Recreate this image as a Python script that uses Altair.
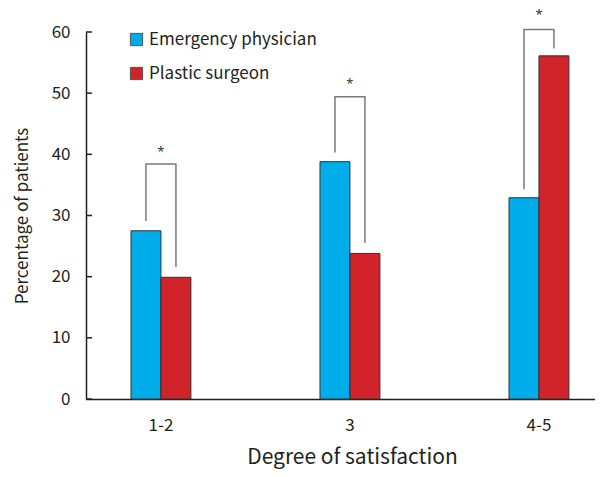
import altair as alt
import pandas as pd

categories = ["1-2", "3", "4-5"]
groups = ["Emergency physician", "Plastic surgeon"]
emergency = [27.5, 38.8, 32.9]
plastic = [19.9, 23.8, 56.1]

bracket_top = [38.4, 49.4, 60.4]
bracket_left_bottom = [29.1, 40.3, 34.3]
bracket_right_bottom = [21.6, 25.5, 57.3]
star_y = [40.9, 52.0, 63.3]
y_ticks = [0, 10, 20, 30, 40, 50, 60]

FONT = "Noto Sans CJK KR"
TXT = "#231F20"

bars_df = pd.DataFrame(
    [{"cat": c, "group": groups[0], "value": v} for c, v in zip(categories, emergency)]
    + [{"cat": c, "group": groups[1], "value": v} for c, v in zip(categories, plastic)]
)

br_rows = []
for c, t, lb, rb in zip(categories, bracket_top, bracket_left_bottom, bracket_right_bottom):
    br_rows += [
        {"cat": c, "group": groups[0], "value": lb, "ord": 0},
        {"cat": c, "group": groups[0], "value": t, "ord": 1},
        {"cat": c, "group": groups[1], "value": t, "ord": 2},
        {"cat": c, "group": groups[1], "value": rb, "ord": 3},
    ]
br_df = pd.DataFrame(br_rows)
star_df = pd.DataFrame({"cat": categories, "value": star_y, "label": ["*"] * 3})
tick_df = pd.DataFrame({"v": y_ticks})

x_scale = alt.Scale(domain=categories, paddingInner=0.683, paddingOuter=0.188, align=0.633)
x_enc = alt.X("cat:N", scale=x_scale, sort=categories,
              axis=alt.Axis(title="Degree of satisfaction", labelAngle=0, ticks=False,
                            labelPadding=18, titlePadding=13, titleAnchor="middle",
                            titleX=266, domainColor=TXT,
                            domainWidth=1.5, labelFontSize=17, titleFontSize=21,
                            labelColor=TXT, titleColor=TXT, labelFont=FONT,
                            titleFont=FONT, titleFontWeight="normal"))
y_scale = alt.Scale(domain=[0, 60], nice=False, zero=True)
xoff = alt.XOffset("group:N", scale=alt.Scale(domain=groups, paddingInner=0, paddingOuter=0))

bars = alt.Chart(bars_df).mark_bar(stroke="#333333", strokeWidth=1).encode(
    x=x_enc,
    xOffset=xoff,
    y=alt.Y("value:Q", scale=y_scale,
            axis=alt.Axis(title="Percentage of patients", values=y_ticks, ticks=False,
                          grid=False, labelPadding=16, titlePadding=20, domainColor=TXT,
                          domainWidth=1.5, labelFontSize=17, titleFontSize=17,
                          labelColor=TXT, titleColor=TXT, labelFont=FONT,
                          titleFont=FONT, titleFontWeight="normal")),
    color=alt.Color("group:N", scale=alt.Scale(domain=groups, range=["#00ADEB", "#D0232A"]),
                    legend=alt.Legend(title=None, orient="none", legendX=42, legendY=-1,
                                      symbolType="square", symbolSize=150,
                                      symbolStrokeColor="#555555", symbolStrokeWidth=1,
                                      symbolOpacity=1, labelFontSize=17, labelFont=FONT,
                                      labelColor=TXT, rowPadding=16, labelOffset=4,
                                      labelLimit=400)),
)

brackets = alt.Chart(br_df).mark_line(color="#7A7A7A", strokeWidth=1.5, clip=False).encode(
    x=alt.X("cat:N", scale=x_scale, sort=categories),
    xOffset=xoff,
    y=alt.Y("value:Q", scale=y_scale),
    detail="cat:N",
    order="ord:Q",
)

stars = alt.Chart(star_df).mark_text(fontSize=13, color="#333333", font="Noto Sans",
                                      baseline="middle", dy=3, clip=False).encode(
    x=alt.X("cat:N", scale=x_scale, sort=categories),
    y=alt.Y("value:Q", scale=y_scale),
    text="label:N",
)

ticks = alt.Chart(tick_df).mark_rule(color=TXT, strokeWidth=1.5).encode(
    y=alt.Y("v:Q", scale=y_scale),
    x=alt.value(0),
    x2=alt.value(6),
)

chart = alt.layer(bars, brackets, stars, ticks).properties(
    width=509, height=367,
    autosize=alt.AutoSizeParams(type="none"),
    padding={"left": 78, "top": 24, "right": 0, "bottom": 70},
).configure_view(stroke=None)

chart.save("out.html", embed_options={"renderer": "svg", "actions": False})
